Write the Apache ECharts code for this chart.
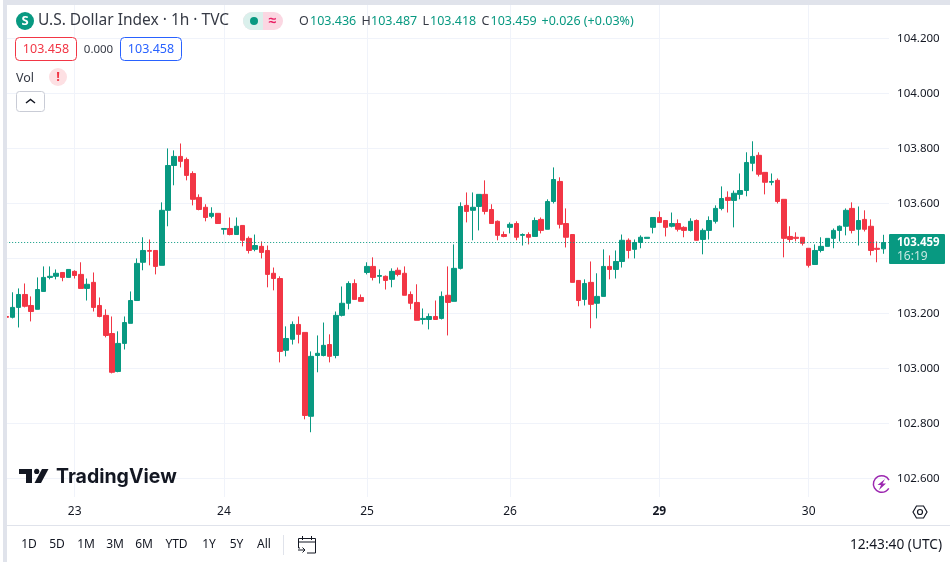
<!DOCTYPE html>
<html>
<head>
<meta charset="utf-8">
<title>U.S. Dollar Index</title>
<style>
    html, body { margin: 0; padding: 0; background: #fff; }
    #chart { width: 950px; height: 562px; }
</style>
<script src="https://cdn.jsdelivr.net/npm/echarts@6/dist/echarts.min.js"></script>
</head>
<body>
<div id="chart"></div>
<script>
// hourly candles
var opens = [103.190,103.187,103.223,103.270,103.230,103.216,103.281,103.332,103.336,103.350,103.332,103.354,103.343,103.292,103.314,103.230,103.194,103.128,102.990,103.092,103.165,103.248,103.387,103.430,103.430,103.376,103.576,103.739,103.772,103.761,103.710,103.623,103.587,103.554,103.565,103.507,103.510,103.488,103.521,103.474,103.434,103.445,103.430,103.347,103.328,103.067,103.107,103.161,103.132,102.827,103.048,103.048,103.088,103.048,103.194,103.238,103.310,103.259,103.350,103.372,103.336,103.336,103.325,103.358,103.347,103.270,103.241,103.179,103.179,103.190,103.183,103.267,103.245,103.365,103.594,103.576,103.590,103.634,103.579,103.536,103.488,103.514,103.528,103.485,103.488,103.481,103.543,103.507,103.608,103.681,103.528,103.488,103.321,103.252,103.314,103.238,103.263,103.372,103.361,103.390,103.467,103.434,103.459,103.474,103.514,103.550,103.539,103.518,103.528,103.514,103.503,103.539,103.470,103.503,103.536,103.583,103.623,103.612,103.634,103.648,103.747,103.776,103.714,103.678,103.685,103.616,103.481,103.478,103.478,103.438,103.379,103.430,103.445,103.474,103.503,103.518,103.583,103.507,103.543,103.518,103.438,103.436];
var highs = [103.190,103.278,103.292,103.310,103.263,103.332,103.372,103.372,103.361,103.350,103.361,103.358,103.387,103.328,103.350,103.259,103.216,103.190,103.136,103.190,103.281,103.401,103.478,103.470,103.430,103.605,103.801,103.794,103.819,103.768,103.718,103.634,103.598,103.587,103.565,103.510,103.550,103.550,103.521,103.481,103.488,103.463,103.448,103.368,103.336,103.154,103.172,103.190,103.132,103.063,103.121,103.168,103.125,103.208,103.299,103.318,103.325,103.270,103.387,103.405,103.361,103.339,103.365,103.368,103.372,103.281,103.307,103.219,103.201,103.248,103.281,103.372,103.452,103.605,103.641,103.641,103.634,103.685,103.598,103.539,103.499,103.532,103.536,103.492,103.496,103.550,103.550,103.616,103.732,103.696,103.583,103.488,103.321,103.325,103.390,103.347,103.434,103.412,103.430,103.488,103.474,103.470,103.485,103.478,103.550,103.572,103.539,103.568,103.543,103.518,103.547,103.543,103.510,103.554,103.594,103.663,103.645,103.648,103.710,103.787,103.827,103.787,103.714,103.710,103.692,103.616,103.518,103.496,103.478,103.438,103.452,103.478,103.474,103.510,103.521,103.583,103.605,103.590,103.576,103.543,103.463,103.487];
var lows = [103.187,103.183,103.150,103.223,103.172,103.216,103.281,103.325,103.325,103.318,103.332,103.328,103.292,103.248,103.208,103.187,103.114,102.983,102.987,103.070,103.165,103.248,103.358,103.376,103.343,103.376,103.518,103.667,103.732,103.685,103.594,103.576,103.536,103.547,103.528,103.488,103.485,103.488,103.445,103.419,103.427,103.401,103.296,103.285,103.023,103.045,103.088,103.092,102.816,102.769,102.987,103.045,103.023,103.038,103.190,103.216,103.252,103.245,103.343,103.321,103.310,103.288,103.296,103.336,103.267,103.216,103.176,103.161,103.143,103.179,103.179,103.121,103.245,103.361,103.532,103.467,103.503,103.561,103.528,103.467,103.478,103.492,103.467,103.448,103.452,103.481,103.492,103.507,103.601,103.510,103.441,103.314,103.227,103.230,103.147,103.183,103.263,103.325,103.328,103.368,103.401,103.401,103.438,103.474,103.492,103.532,103.481,103.514,103.499,103.478,103.499,103.467,103.416,103.470,103.528,103.576,103.568,103.514,103.616,103.627,103.718,103.699,103.634,103.667,103.601,103.405,103.459,103.463,103.448,103.368,103.379,103.423,103.445,103.438,103.463,103.485,103.492,103.448,103.499,103.412,103.387,103.418];
var closes = [103.187,103.223,103.270,103.227,103.208,103.288,103.332,103.336,103.347,103.332,103.361,103.339,103.292,103.307,103.223,103.190,103.121,102.987,103.092,103.168,103.248,103.383,103.430,103.427,103.372,103.576,103.739,103.772,103.754,103.703,103.616,103.579,103.550,103.565,103.528,103.510,103.488,103.518,103.467,103.430,103.448,103.423,103.343,103.328,103.063,103.110,103.161,103.125,102.830,103.045,103.056,103.085,103.045,103.194,103.238,103.310,103.252,103.245,103.372,103.332,103.339,103.321,103.354,103.343,103.267,103.238,103.176,103.183,103.190,103.179,103.263,103.241,103.365,103.590,103.572,103.587,103.634,103.572,103.528,103.485,103.481,103.525,103.478,103.488,103.478,103.539,103.503,103.608,103.688,103.525,103.478,103.314,103.248,103.310,103.234,103.263,103.372,103.361,103.390,103.467,103.430,103.459,103.478,103.478,103.550,103.532,103.514,103.528,103.507,103.503,103.536,103.467,103.503,103.539,103.583,103.619,103.612,103.638,103.648,103.750,103.772,103.707,103.678,103.681,103.608,103.474,103.470,103.474,103.456,103.376,103.430,103.445,103.474,103.503,103.518,103.576,103.503,103.539,103.507,103.430,103.434,103.459];

// candle index where each day starts and what the time axis prints there
var dayStarts = [11, 35, 58, 81, 105, 129];
var dayLabels = ['23', '24', '25', '26', '29', '30'];
var priceTicks = [102.6, 102.8, 103.0, 103.2, 103.4, 103.6, 103.8, 104.0, 104.2];
var lastPrice = 103.459;

var ohlcKeys = ['O', 'H', 'L', 'C'];
var ohlcValues = ['103.436', '103.487', '103.418', '103.459'];
var rangeButtons = ['1D', '5D', '1M', '3M', '6M', 'YTD', '1Y', '5Y', 'All'];

var UP = '#089981';
var DOWN = '#f23645';
var INK = '#131722';
var GRID = '#f0f3fa';
var FRAME = '#e0e3eb';
var FONT = '"Noto Sans", sans-serif';

var chart = null;
var graphics = [];

function Txt(x, y, text, size, color, align, weight, family) {
    graphics.push({
        type: 'text',
        z: 10,
        style: {
            x: x,
            y: y,
            text: text,
            fill: color || INK,
            font: (weight || 'normal') + ' ' + size + 'px ' + (family || FONT),
            textAlign: align || 'left',
            textVerticalAlign: 'middle'
        }
    });
}

function Box(x, y, w, h, r, fill, stroke, z) {
    graphics.push({
        type: 'rect',
        z: z === undefined ? 10 : z,
        shape: { x: x, y: y, width: w, height: h, r: r },
        style: { fill: fill, stroke: stroke || null, lineWidth: stroke ? 1 : 0 }
    });
}

function Poly(type, points, fill, stroke, lineWidth) {
    graphics.push({
        type: type,
        z: 10,
        shape: { points: points },
        style: { fill: fill || null, stroke: stroke || null, lineWidth: lineWidth || 1 }
    });
}

function Dot(x, y, r, fill, stroke, lineWidth) {
    graphics.push({
        type: 'circle',
        z: 10,
        shape: { cx: x, cy: y, r: r },
        style: { fill: fill || null, stroke: stroke || null, lineWidth: lineWidth || 1 }
    });
}

function Header() {
    Dot(25, 21, 9, UP);
    Txt(25, 21, 'S', 13, '#fff', 'center', 'bold');
    Txt(38, 21, 'U.S. Dollar Index · 1h · TVC', 15.5, '#363a45');

    // market status pill
    Box(243, 12, 40, 18, [9, 9, 9, 9], '#fbd7e2');
    Box(243, 12, 20, 18, [9, 0, 0, 9], '#daf0ec');
    Dot(254, 21, 4, UP);
    Txt(272.5, 21, '≈', 14, '#e91e63', 'center', 'bold');

    var keyX = [299, 361.5, 422.5, 481.5];
    var valX = [310, 371, 430, 490.5];
    for (var i = 0; i < ohlcKeys.length; i++) {
        Txt(keyX[i], 21.5, ohlcKeys[i], 12.5, '#363a45');
        Txt(valX[i], 21.5, ohlcValues[i], 12.5, UP);
    }
    Txt(541.5, 21.5, '+0.026 (+0.03%)', 12.5, UP);

    // sell / spread / buy
    Box(15.5, 37.5, 61, 23, 4, '#fff', DOWN);
    Txt(46, 49.5, '103.458', 12.5, DOWN, 'center');
    Txt(98.5, 49.5, '0.000', 11.5, '#363a45', 'center');
    Box(120.5, 37.5, 61, 23, 4, '#fff', '#2962ff');
    Txt(151, 49.5, '103.458', 12.5, '#2962ff', 'center');

    Txt(16, 78, 'Vol', 12.5, '#363a45');
    Dot(58, 77, 9, '#fde0e3');
    Txt(58, 77, '!', 13, DOWN, 'center', 'bold');

    Box(16.5, 91.5, 28, 20, 3, '#fff', '#c9ccd6');
    Poly('polyline', [[26, 103], [30.5, 99.5], [35, 103]], null, INK, 1.5);
}

function Watermark() {
    Box(19, 469, 13, 5, 0, INK);
    Box(26, 469, 6, 14, 0, INK);
    Dot(36.7, 471.4, 2.6, INK);
    Poly('polygon', [[48.5, 469], [41, 483], [34.5, 483], [42, 469]], INK);
    Txt(56, 477, 'TradingView', 19.5, INK, 'left', '700', 'Inter, sans-serif');

    // bolt badge
    graphics.push({
        type: 'arc',
        z: 10,
        shape: { cx: 881.7, cy: 484, r: 8.3, startAngle: -0.5, endAngle: 0.55, clockwise: false },
        style: { fill: null, stroke: '#9c27b0', lineWidth: 1.5 }
    });
    Poly('polygon', [[885, 479], [877.5, 485], [881, 485], [879, 490], [886, 483.5], [882.5, 483.5]], '#9c27b0');
}

function PriceTag() {
    Box(889, 234, 56, 30, 1, UP, null, 12);
    graphics.push({
        type: 'text',
        z: 13,
        style: { x: 897, y: 242.5, text: '103.459', fill: '#fff', font: 'bold 11.5px ' + FONT, textVerticalAlign: 'middle' }
    });
    graphics.push({
        type: 'text',
        z: 13,
        style: { x: 897, y: 256.5, text: '16:19', fill: '#c8e8e2', font: '12px ' + FONT, textVerticalAlign: 'middle' }
    });
}

function Footer() {
    var centers = [29, 57, 86, 115, 144, 176.5, 209, 236.5, 264];
    for (var i = 0; i < rangeButtons.length; i++) {
        Txt(centers[i], 545, rangeButtons[i], 12, INK, 'center');
    }
    Box(283, 535, 1, 20, 0, FRAME);

    // go to date icon
    Poly('polyline', [[300, 548], [298.5, 548], [298.5, 538.5], [315.5, 538.5], [315.5, 553], [307, 553]], null, INK, 1);
    Poly('polyline', [[298.5, 542], [315.5, 542]], null, INK, 1);
    Poly('polyline', [[302.5, 536], [302.5, 540]], null, INK, 1);
    Poly('polyline', [[311.5, 536], [311.5, 540]], null, INK, 1);
    Poly('polyline', [[298, 550], [305, 550]], null, INK, 1);
    Poly('polyline', [[302.5, 547.5], [305, 550], [302.5, 552.5]], null, INK, 1);

    Txt(942, 545, '12:43:40 (UTC)', 13.7, INK, 'right');

    // settings hexagon
    Poly('polygon', [[913, 512], [916.5, 506], [923.5, 506], [927, 512], [923.5, 518], [916.5, 518]], null, INK, 1.2);
    Dot(920, 512, 2.5, null, INK, 1.2);
}

function Masks() {
    // the plot runs a little past what is shown, these hide the rest of the grid
    Box(0, 497, 950, 65, 0, '#fff', null, 1);
    Box(889, 0, 61, 562, 0, '#fff', null, 1);
    Box(0, 0, 3, 562, 0, '#fff', null, 20);
    Box(3, 0, 4, 562, 0, FRAME, null, 20);
    Box(3, 0, 947, 5, 0, FRAME, null, 20);
    Box(7, 525, 943, 1, 0, FRAME, null, 20);
}

function ChartInit() {
    chart = echarts.init(document.getElementById('chart'), null, { renderer: 'canvas' });

    var categories = [];
    var candles = [];
    for (var i = 0; i < opens.length + 1; i++) {
        var at = dayStarts.indexOf(i);
        categories.push(at >= 0 ? dayLabels[at] : String(i));
        if (i < opens.length) {
            candles.push([opens[i], closes[i], lows[i], highs[i]]);
        }
    }

    function isDayStart(index) {
        return dayStarts.indexOf(index) >= 0;
    }

    Masks();
    Header();
    Watermark();
    PriceTag();
    Footer();

    var option = {
        animation: false,
        backgroundColor: '#fff',
        textStyle: { fontFamily: FONT },
        grid: { left: 3.17, right: 57.4, top: 0, bottom: 28.28 },
        xAxis: [{
            type: 'category',
            data: categories,
            z: 0,
            axisLine: { show: false },
            axisTick: { show: false },
            axisLabel: { show: false },
            splitLine: {
                show: true,
                interval: function (index) { return isDayStart(index); },
                alignWithLabel: true,
                lineStyle: { color: GRID, width: 1 }
            }
        }, {
            type: 'category',
            data: categories,
            z: 3,
            position: 'bottom',
            offset: -36,
            axisLine: { show: false },
            axisTick: { show: false },
            splitLine: { show: false },
            axisLabel: {
                interval: function (index) { return isDayStart(index); },
                color: INK,
                fontSize: 12,
                fontFamily: FONT,
                margin: 8,
                formatter: function (value) {
                    return value === '29' ? '{b|' + value + '}' : value;
                },
                rich: { b: { fontWeight: 'bold', fontSize: 12, color: INK, fontFamily: FONT } }
            }
        }],
        yAxis: [{
            type: 'value',
            position: 'right',
            min: 102.4,
            max: 104.3408,
            interval: 0.2,
            z: 0,
            axisLine: { show: false },
            axisTick: { show: false },
            axisLabel: { show: false },
            splitLine: { show: true, lineStyle: { color: GRID, width: 1 } }
        }, {
            type: 'value',
            position: 'right',
            min: 102.4,
            max: 104.3408,
            interval: 0.2,
            z: 3,
            axisLine: { show: false },
            axisTick: { show: false },
            splitLine: { show: false },
            axisLabel: {
                customValues: priceTicks,
                color: INK,
                fontSize: 11.5,
                fontFamily: FONT,
                margin: 4.5,
                formatter: function (value) { return value.toFixed(3); }
            }
        }],
        graphic: { elements: graphics },
        series: [{
            type: 'candlestick',
            xAxisIndex: 0,
            yAxisIndex: 0,
            z: 2,
            barWidth: 5,
            itemStyle: {
                color: UP,
                color0: DOWN,
                borderColor: UP,
                borderColor0: DOWN,
                borderColorDoji: UP,
                borderWidth: 1
            },
            data: candles,
            markLine: {
                silent: true,
                symbol: 'none',
                label: { show: false },
                lineStyle: { color: UP, type: [1, 2], width: 1 },
                data: [{ yAxis: lastPrice }]
            }
        }]
    };
    chart.setOption(option);
}

ChartInit();
</script>
</body>
</html>
